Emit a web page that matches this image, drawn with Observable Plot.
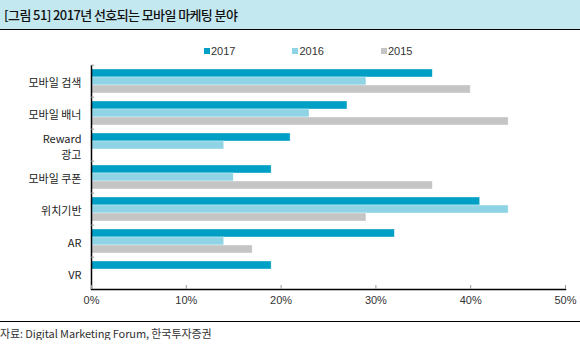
<!DOCTYPE html>
<html>
<head>
<meta charset="utf-8">
<script src="https://cdn.jsdelivr.net/npm/d3@7"></script>
<script src="https://cdn.jsdelivr.net/npm/@observablehq/plot@0.6"></script>
<style>
  html, body { margin: 0; padding: 0; background: #fff; }
  #wrap { width: 580px; font-family: "Noto Sans CJK KR", "Liberation Sans", sans-serif; }
  #title { height: 29px; background: #c4e8f0; border-bottom: 1.5px solid #000; box-sizing: content-box;
           font-size: 13px; font-weight: 500; letter-spacing: -0.6px; line-height: 29px; padding-left: 4px; color: #111; }
  #legend { height: 27px; box-sizing: border-box; padding-top: 15px; padding-left: 204px; display: flex; gap: 57px;
            font-family: "Liberation Sans", Arial, sans-serif; font-size: 11px; line-height: 13px; color: #333; }
  #legend .item { display: flex; align-items: center; }
  #legend .sw { width: 6px; height: 6px; margin-right: 1px; }
  #chart svg { display: block; }
  #caption { border-top: 1.5px solid #000; margin-top: 2px; padding-top: 5px; font-size: 11px; line-height: 13px; color: #333; letter-spacing: -0.1px; }
</style>
</head>
<body>
<div id="wrap">
  <div id="title">[그림 51] 2017년 선호되는 모바일 마케팅 분야</div>
  <div id="legend"></div>
  <div id="chart"></div>
  <div id="caption">자료: Digital Marketing Forum, 한국투자증권</div>
</div>
<script>
const categories = ["모바일 검색", "모바일 배너", "Reward\n광고", "모바일 쿠폰", "위치기반", "AR", "VR"];
const years = ["2017", "2016", "2015"];
const values2017 = [36, 27, 21, 19, 41, 32, 19];
const values2016 = [29, 23, 14, 15, 44, 14, null];
const values2015 = [40, 44, null, 36, 29, 17, null];
const colors = ["#00a0c6", "#8fd4e4", "#c5c5c5"];
const xTicks = [0, 10, 20, 30, 40, 50];

const series = [values2017, values2016, values2015];
const rows = [];
categories.forEach((c, i) => {
  years.forEach((y, j) => {
    const v = series[j][i];
    if (v != null) rows.push({category: c, year: y, value: v});
  });
});

// legend
const legend = document.getElementById("legend");
years.forEach((y, j) => {
  const it = document.createElement("div");
  it.className = "item";
  const sw = document.createElement("span");
  sw.className = "sw";
  sw.style.background = colors[j];
  const t = document.createElement("span");
  t.textContent = y;
  it.appendChild(sw); it.appendChild(t);
  legend.appendChild(it);
});

const chart = Plot.plot({
  width: 580,
  height: 262,
  marginTop: 5,
  marginBottom: 28,
  marginLeft: 91,
  marginRight: 15,
  style: {fontFamily: "'Noto Sans CJK KR', sans-serif", fontSize: "11px", color: "#333", background: "#fff"},
  x: {domain: [0, 50], axis: null},
  y: {domain: years, paddingInner: 0, paddingOuter: 0.46, axis: null},
  fy: {domain: categories, padding: 0, axis: null},
  color: {domain: years, range: colors},
  marks: [
    Plot.barX(rows, {x: "value", y: "year", fy: "category", fill: "year", stroke: "#fff", strokeOpacity: 0.6, strokeWidth: 0.6}),
    Plot.ruleX([0], {stroke: "#000", strokeWidth: 1.5}),
    Plot.frame({anchor: "bottom", facetAnchor: "bottom", stroke: "#000", strokeWidth: 1.5}),
    Plot.axisX({ticks: xTicks, tickFormat: d => d + "%", tickSize: -4, tickPadding: 11, stroke: "#999", fill: "#333", label: null, fontFamily: "'Liberation Sans', Arial, sans-serif", fontSize: 11}),
    Plot.axisFy({anchor: "left", tickSize: 0, tickPadding: 10, label: null, fill: "#222", fontSize: 11, lineHeight: 1.45, letterSpacing: "0.8px"}),
    Plot.axisFy({anchor: "left", tickSize: -3, text: null, label: null, dy: -16.33, stroke: "#999"})
  ]
});
document.getElementById("chart").appendChild(chart);
</script>
</body>
</html>
